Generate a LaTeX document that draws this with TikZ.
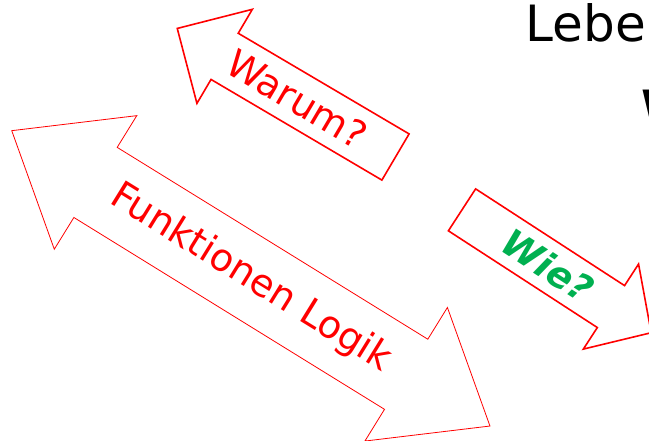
\documentclass[tikz,border=0pt]{standalone}
\usepackage{fontspec}
\setmainfont{DejaVu Sans}
\usetikzlibrary{calc}
\definecolor{pptred}{RGB}{255,0,0}
\definecolor{pptgreen}{RGB}{0,176,80}
\tikzset{
  boldarr/.style = { draw=pptred, line width=1.6pt },
  thinarr/.style = { draw=pptred, line width=0.8pt },
  redlbl/.style  = { text=pptred, inner sep=0pt, font=\fontsize{38}{44}\selectfont },
  greenlbl/.style= { text=pptgreen, inner sep=0pt, font=\fontsize{37}{44}\selectfont\bfseries\itshape },
  titletxt/.style= { inner sep=0pt, font=\fontsize{50}{58}\selectfont }
}

\begin{document}
\begin{tikzpicture}[x=1pt,y=-1pt]
  \useasboundingbox (0,0) rectangle (649,441);

  % Warum? (points up-left)
  \begin{scope}[shift={(395.5,157)}, rotate=149.5]
    \draw[boldarr] (0,-26.8) -- (198.3,-26.8) -- (198.3,-54.6) -- (253.3,0)
      -- (198.3,54.6) -- (198.3,26.8) -- (0,26.8) -- cycle;
  \end{scope}
  \node[redlbl, rotate=-30.5] (warum) at (297.3,99.1) {Warum?};

  % Funktionen Logik (both ways)
  \begin{scope}[shift={(250.85,278.35)}, rotate=-31.7]
    \draw[thinarr] (-182.55,-41.2) -- (182.55,-41.2) -- (182.55,-78.5) -- (281.05,0)
      -- (182.55,78.5) -- (182.55,41.2) -- (-182.55,41.2) -- (-182.55,78.5)
      -- (-281.05,0) -- (-182.55,-78.5) -- cycle;
  \end{scope}
  \node[redlbl, rotate=-31.7] (logik) at (250.85,278.35) {Funktionen Logik};

  % Wie? (points down-right)
  \begin{scope}[shift={(462,209.85)}, rotate=-33]
    \draw[boldarr] (0,-25) -- (177.6,-25) -- (177.6,-50.7) -- (225.6,0)
      -- (177.6,50.7) -- (177.6,25) -- (0,25) -- cycle;
  \end{scope}
  \node[greenlbl, rotate=-33] (wie) at (547.8,265.6) {Wie?};

  % title, cut at the right edge
  \node[titletxt, anchor=base west] (lebe) at (525.5,41.7) {Lebe};
  \node[titletxt, anchor=base west, font=\fontsize{50}{58}\selectfont\bfseries] (wtxt) at (641,127) {W};
\end{tikzpicture}
\end{document}
